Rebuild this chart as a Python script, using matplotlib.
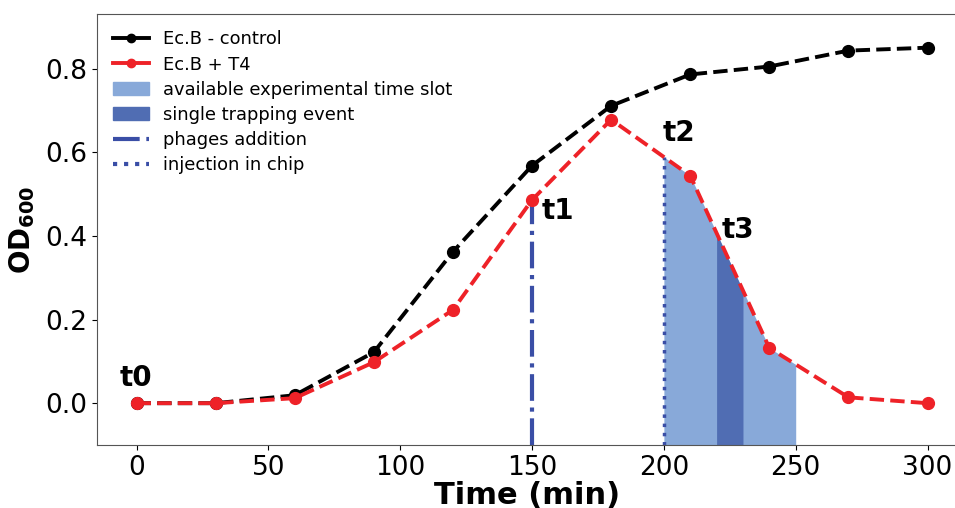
import numpy as np
import matplotlib
matplotlib.use("Agg")
import matplotlib.pyplot as plt
from matplotlib.patches import Patch
from matplotlib.lines import Line2D

time = [0, 30, 60, 90, 120, 150, 180, 210, 240, 270, 300]
od_control = [0.0, 0.0, 0.019, 0.122, 0.362, 0.568, 0.711, 0.786, 0.805, 0.843, 0.850]
od_t4 = [0.0, 0.0, 0.012, 0.098, 0.223, 0.486, 0.678, 0.544, 0.132, 0.014, 0.0]

slot = (200, 250)
trap = (220, 230)
t_phage = 150
t_inject = 200
labels = ["t0", "t1", "t2", "t3"]
label_pos = [(-6.5, 0.042), (153.5, 0.44), (199.5, 0.628), (222, 0.395)]

light = "#88a9d9"
dark = "#506db3"
vline_col = "#3a4ea6"


def main():
    fig = plt.figure(figsize=(9.55, 5.08), dpi=100)
    ax = fig.add_axes([0.1016, 0.124, 0.9, 0.848])
    ymin = -0.1

    xs = np.linspace(slot[0], slot[1], 200)
    ys = np.interp(xs, time, od_t4)
    ax.fill_between(xs, ymin, ys, color=light, lw=0)
    xt = np.linspace(trap[0], trap[1], 50)
    ax.fill_between(xt, ymin, np.interp(xt, time, od_t4), color=dark, lw=0)

    ax.plot([t_phage, t_phage], [ymin, np.interp(t_phage, time, od_t4)],
            color=vline_col, ls="-.", lw=3)
    ax.plot([t_inject, t_inject], [ymin, np.interp(t_inject, time, od_t4)],
            color=vline_col, ls=":", lw=2.5)

    ax.plot(time, od_control, "k--", marker="o", ms=8.5, lw=2.8)
    ax.plot(time, od_t4, color="#ee2228", ls="--", marker="o", ms=8.5, lw=2.8)

    for lab, (x, y) in zip(labels, label_pos):
        ax.text(x, y, lab, fontsize=20, fontweight="bold")

    ax.set_xlim(-15, 311)
    ax.set_ylim(ymin, 0.93)
    ax.set_xticks([0, 50, 100, 150, 200, 250, 300])
    ax.set_yticks([0.0, 0.2, 0.4, 0.6, 0.8])
    ax.tick_params(labelsize=19)
    ax.set_xlabel("Time (min)", fontsize=22, fontweight="bold", labelpad=0)
    ax.set_ylabel("OD$_\\mathbf{600}$", fontsize=20, fontweight="bold", labelpad=6)
    for s in ax.spines.values():
        s.set_color("#555555")

    handles = [
        Line2D([], [], color="k", marker="o", lw=2.8),
        Line2D([], [], color="#ee2228", marker="o", lw=2.8),
        Patch(color=light),
        Patch(color=dark),
        Line2D([], [], color=vline_col, ls="-.", lw=3),
        Line2D([], [], color=vline_col, ls=":", lw=3),
    ]
    names = ["Ec.B - control", "Ec.B + T4", "available experimental time slot",
             "single trapping event", "phages addition", "injection in chip"]
    ax.legend(handles, names, loc="upper left", frameon=False, fontsize=12.9,
              handlelength=2.0, labelspacing=0.4, borderaxespad=0.5)

    fig.savefig("out.png")


if __name__ == "__main__":
    main()
